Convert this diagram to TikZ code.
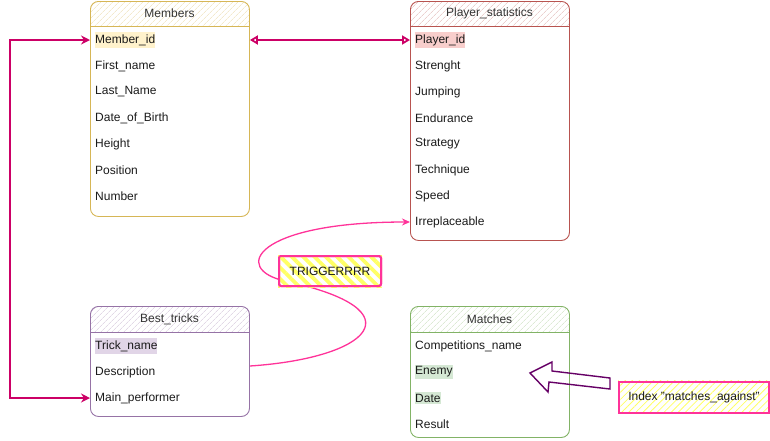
\documentclass[tikz,border=0pt]{standalone}
\usepackage{fontspec}
\setmainfont{Liberation Sans}
\usetikzlibrary{patterns.meta,arrows.meta,calc}
\definecolor{yelS}{HTML}{D6B656}\definecolor{yelF}{HTML}{FFF2CC}
\definecolor{redS}{HTML}{B85450}\definecolor{redF}{HTML}{F8CECC}
\definecolor{purS}{HTML}{9673A6}\definecolor{purF}{HTML}{E1D5E7}
\definecolor{grnS}{HTML}{82B366}\definecolor{grnF}{HTML}{D5E8D4}
\definecolor{mag}{HTML}{CC0066}
\definecolor{pink}{HTML}{FF3399}
\definecolor{hyel}{HTML}{FFFF66}
\definecolor{darkpur}{HTML}{660066}
\definecolor{txt}{HTML}{1A1A1A}
\tikzset{
  tab/.style={draw=#1, line width=0.9pt, rounded corners=8pt, anchor=north west, minimum width=159pt, inner sep=0pt},
  rowtxt/.style={anchor=west, inner xsep=0pt, inner ysep=2pt, text=txt, font=\fontsize{12}{14}\selectfont},
  hl/.style={rowtxt, fill=#1},
  htxt/.style={text=black!80, font=\fontsize{12}{14}\selectfont},
  hatch/.style={pattern={Lines[angle=45,distance=4pt,line width=0.7pt]}, pattern color=#1},
  conn/.style={draw=mag, line width=1.8pt},
  curvy/.style={draw=pink, line width=1.3pt},
  note/.style={draw=pink, line width=2pt, rounded corners=2pt, minimum height=30pt, inner sep=0pt, font=\fontsize{12}{14}\selectfont, text=txt}
}
\begin{document}
\begin{tikzpicture}[x=1pt,y=-1pt]
\useasboundingbox (0,0) rectangle (770,440);

% ---------- Members ----------
\path[hatch=yelS!30] (90,26) [rounded corners=8pt] -- (90,1) -- (249,1) [sharp corners] -- (249,26) -- cycle;
\node[tab=yelS, minimum height=215pt] (mem) at (90,1) {};
\draw[yelS, line width=0.9pt] (90,26) -- (249,26);
\node[htxt] (memh) at (169.5,13.5) {Members};
\node[hl=yelF] (m1) at (95,40) {Member\_id};
\node[rowtxt] (m2) at (95,66) {First\_name};
\node[rowtxt] (m3) at (95,92) {Last\_Name};
\node[rowtxt] (m4) at (95,118) {Date\_of\_Birth};
\node[rowtxt] (m5) at (95,144) {Height};
\node[rowtxt] (m6) at (95,170) {Position};
\node[rowtxt] (m7) at (95,196) {Number};

% ---------- Player_statistics ----------
\path[hatch=redS!28] (410,26) [rounded corners=8pt] -- (410,1) -- (569,1) [sharp corners] -- (569,26) -- cycle;
\node[tab=redS, minimum height=239pt] (ps) at (410,1) {};
\draw[redS, line width=0.9pt] (410,26) -- (569,26);
\node[htxt] (psh) at (489.5,13.5) {Player\_statistics};
\node[hl=redF] (p1) at (415,40) {Player\_id};
\node[rowtxt] (p2) at (415,66) {Strenght};
\node[rowtxt] (p3) at (415,92) {Jumping};
\node[rowtxt] (p4) at (415,118) {Endurance};
\node[rowtxt] (p5) at (415,144) {Strategy};
\node[rowtxt] (p6) at (415,170) {Technique};
\node[rowtxt] (p7) at (415,196) {Speed};
\node[rowtxt] (p8) at (415,222) {Irreplaceable};

% ---------- Best_tricks ----------
\path[hatch=purS!28] (90,332) [rounded corners=8pt] -- (90,306) -- (249,306) [sharp corners] -- (249,332) -- cycle;
\node[tab=purS, minimum height=110pt] (bt) at (90,306) {};
\draw[purS, line width=0.9pt] (90,332) -- (249,332);
\node[htxt] (bth) at (169.5,319) {Best\_tricks};
\node[hl=purF] (b1) at (95,346) {Trick\_name};
\node[rowtxt] (b2) at (95,372) {Description};
\node[rowtxt] (b3) at (95,398) {Main\_performer};

% ---------- Matches ----------
\path[hatch=grnS!28] (410,332) [rounded corners=8pt] -- (410,306) -- (569,306) [sharp corners] -- (569,332) -- cycle;
\node[tab=grnS, minimum height=131pt] (ma) at (410,306) {};
\draw[grnS, line width=0.9pt] (410,332) -- (569,332);
\node[htxt] (mah) at (489.5,319) {Matches};
\node[rowtxt] (a1) at (415,346) {Competitions\_name};
\node[hl=grnF] (a2) at (415,372) {Enemy};
\node[hl=grnF] (a3) at (415,398) {Date};
\node[rowtxt] (a4) at (415,424) {Result};

% ---------- connectors ----------
\coordinate (lc) at (10,40);
\draw[conn, {Stealth[length=9pt,width=9pt]}-{Stealth[length=9pt,width=9pt]}]
  (bt.west |- b3) -| (lc) -- (mem.west |- m1);
\draw[conn, {Triangle[open,length=8pt,width=9pt]}-{Triangle[open,length=8pt,width=9pt]}]
  (mem.east |- m1) -- (ps.west |- p1);

\coordinate (cs) at ($(bt.east |- b2)+(0,-6)$);
\coordinate (cm) at (285,281);
\draw[curvy, -{Stealth[length=8pt,width=7pt]}]
  (cs) .. controls (370,358) and (420,310) .. (cm)
       .. controls (231,269) and (255,222) .. (ps.west |- p8);

% ---------- TRIGGER note ----------
\node[note, fill=white, minimum width=102pt] (trig) at (330,271) {};
\path[pattern={Lines[angle=-45,distance=8pt,line width=3.8pt]}, pattern color=hyel]
  (trig.south west) rectangle (trig.north east);
\node[note, minimum width=102pt] (trigt) at (330,271) {TRIGGERRRR};

% ---------- Index note ----------
\node[note, fill=white, minimum width=150pt, rounded corners=0pt, minimum height=31pt] (idx) at (694,397) {};
\path[pattern={Lines[angle=45,distance=5pt,line width=0.8pt]}, pattern color=hyel]
  (idx.south west) rectangle (idx.north east);
\node[note, minimum width=150pt, rounded corners=0pt, minimum height=31pt] (idxt) at (694,397) {Index "matches\_against"};

% ---------- hollow arrow ----------
\draw[darkpur, line width=1.4pt, line join=miter]
  (530,373) -- (552,362) -- (552,371) -- (610,378) -- (610,389) -- (549,382) -- (548,392) -- cycle;
\end{tikzpicture}
\end{document}
